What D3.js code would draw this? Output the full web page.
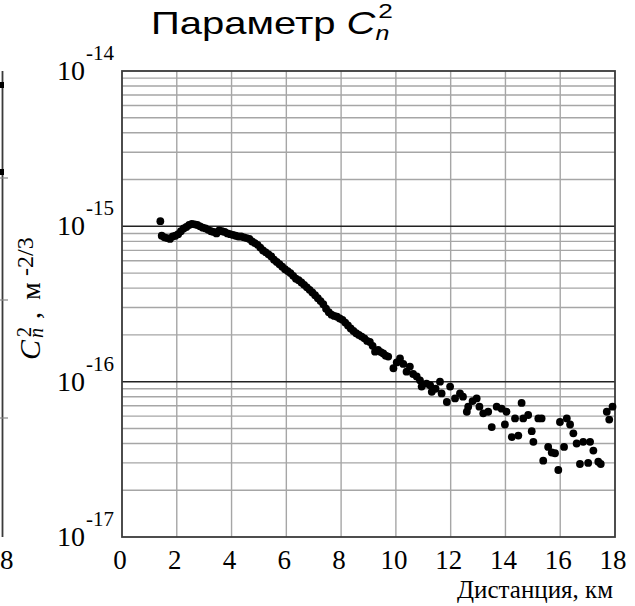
<!DOCTYPE html>
<html>
<head>
<meta charset="utf-8">
<script src="https://cdn.jsdelivr.net/npm/d3@7"></script>
<style>
  body { margin: 0; background: #fff; }
  svg { display: block; }
</style>
</head>
<body>
<svg id="chart"></svg>
<script>
// дистанция, км
var distKm = [
  1.40, 1.45, 1.55, 1.65, 1.75, 1.85, 1.95, 2.05, 2.15, 2.25, 2.35, 2.45, 2.55, 2.65, 2.75,
  2.85, 2.95, 3.05, 3.15, 3.25, 3.35, 3.45, 3.55, 3.65, 3.75, 3.85, 3.95, 4.05, 4.15, 4.25,
  4.35, 4.45, 4.55, 4.65, 4.75, 4.85, 4.95, 5.05, 5.15, 5.25, 5.35, 5.45, 5.55, 5.65, 5.75,
  5.85, 5.95, 6.05, 6.15, 6.25, 6.35, 6.45, 6.55, 6.65, 6.75, 6.85, 6.95, 7.05, 7.15, 7.25,
  7.35, 7.45, 7.55, 7.65, 7.75, 7.85, 7.95, 8.05, 8.15, 8.25, 8.35, 8.45, 8.55, 8.65, 8.75,
  8.85, 8.95, 9.05, 9.15, 9.24, 9.35, 9.45, 9.54, 9.63, 9.72, 9.91, 10.03, 10.15, 10.27, 10.39,
  10.51, 10.63, 10.76, 10.88, 10.94, 11.12, 11.25, 11.31, 11.45, 11.61, 11.67, 11.86, 11.98, 12.16, 12.34,
  12.45, 12.59, 12.64, 12.80, 12.95, 13.05, 13.19, 13.37, 13.50, 13.68, 13.86, 13.98, 14.04, 14.23, 14.35,
  14.47, 14.59, 14.65, 14.83, 14.96, 15.02, 15.20, 15.32, 15.38, 15.56, 15.69, 15.81, 15.93, 15.99, 16.14,
  16.24, 16.36, 16.48, 16.60, 16.72, 16.84, 17.02, 17.09, 17.21, 17.39, 17.48, 17.70, 17.79, 17.91
];
// Cn2, м^-2/3
var cn2 = [
  1.08e-15, 8.7e-16, 8.5e-16, 8.4e-16, 8.3e-16, 8.6e-16, 8.7e-16, 8.9e-16, 9.3e-16, 9.7e-16, 9.9e-16, 1.02e-15, 1.035e-15, 1.03e-15, 1.02e-15,
  1.0e-15, 9.8e-16, 9.7e-16, 9.5e-16, 9.3e-16, 9.2e-16, 9.0e-16, 9.4e-16, 9.3e-16, 9.2e-16, 9.0e-16, 8.9e-16, 8.8e-16, 8.7e-16, 8.6e-16,
  8.6e-16, 8.5e-16, 8.4e-16, 8.3e-16, 8.0e-16, 7.8e-16, 7.6e-16, 7.3e-16, 7.0e-16, 6.8e-16, 6.6e-16, 6.4e-16, 6.1e-16, 5.9e-16, 5.7e-16,
  5.5e-16, 5.3e-16, 5.15e-16, 5.0e-16, 4.8e-16, 4.6e-16, 4.5e-16, 4.35e-16, 4.2e-16, 4.05e-16, 3.9e-16, 3.75e-16, 3.6e-16, 3.45e-16, 3.3e-16,
  3.15e-16, 2.95e-16, 2.8e-16, 2.7e-16, 2.65e-16, 2.62e-16, 2.55e-16, 2.5e-16, 2.4e-16, 2.3e-16, 2.2e-16, 2.12e-16, 2.05e-16, 2.0e-16, 1.95e-16,
  1.9e-16, 1.83e-16, 1.8e-16, 1.7e-16, 1.56e-16, 1.6e-16, 1.55e-16, 1.52e-16, 1.47e-16, 1.45e-16, 1.22e-16, 1.33e-16, 1.41e-16, 1.3e-16, 1.16e-16,
  1.25e-16, 1.12e-16, 1.08e-16, 1.02e-16, 9.3e-17, 9.7e-17, 9.5e-17, 8.6e-17, 9.0e-17, 1.0e-16, 8.4e-17, 7.4e-17, 9.3e-17, 7.8e-17, 8.4e-17,
  8.0e-17, 6.4e-17, 6.9e-17, 7.5e-17, 7.8e-17, 6.9e-17, 6.25e-17, 6.4e-17, 5.1e-17, 6.9e-17, 6.7e-17, 5.3e-17, 6.4e-17, 4.4e-17, 5.8e-17,
  4.5e-17, 7.3e-17, 5.8e-17, 6.1e-17, 4.8e-17, 4.1e-17, 5.8e-17, 5.8e-17, 3.1e-17, 3.8e-17, 3.5e-17, 3.46e-17, 2.7e-17, 5.5e-17, 3.8e-17,
  5.8e-17, 5.3e-17, 4.65e-17, 4.0e-17, 2.95e-17, 4.1e-17, 3.0e-17, 4.1e-17, 3.6e-17, 3.05e-17, 2.95e-17, 6.4e-17, 5.7e-17, 6.9e-17
];
var xTicks = [0, 2, 4, 6, 8, 10, 12, 14, 16, 18];
var yDecades = [-14, -15, -16, -17];
var titleText = "Параметр ";
var xLabel = "Дистанция, км";

function run() {
  var W = 635, H = 606;
  var m = { left: 122, top: 71, right: 20, bottom: 69 };  // left, top, right, bottom
  var serif = "'Liberation Serif', 'Times New Roman', serif";
  var sans = "'Liberation Sans', Arial, sans-serif";

  var svg = d3.select("#chart").attr("width", W).attr("height", H);

  var x = d3.scaleLinear().domain([0, 18]).range([m.left, W - m.right]);
  var y = d3.scaleLog().domain([1e-17, 1e-14]).range([H - m.bottom, m.top]);

  // сетка: минорные линии по логарифмической шкале
  var minor = [];
  yDecades.slice(0, 3).forEach(function (e) {
    for (var k = 2; k <= 9; k++) minor.push(k * Math.pow(10, e - 1));
  });
  svg.append("g").selectAll("line").data(minor).enter().append("line")
    .attr("x1", x(0)).attr("x2", x(18))
    .attr("y1", function (d) { return y(d); }).attr("y2", function (d) { return y(d); })
    .attr("stroke", "#a6a6a6").attr("stroke-width", 1.4);

  svg.append("g").selectAll("line").data(xTicks.slice(1, -1)).enter().append("line")
    .attr("x1", function (d) { return x(d); }).attr("x2", function (d) { return x(d); })
    .attr("y1", y(1e-14)).attr("y2", y(1e-17))
    .attr("stroke", "#a6a6a6").attr("stroke-width", 1.4);

  // декадные линии
  svg.append("g").selectAll("line").data([1e-15, 1e-16]).enter().append("line")
    .attr("x1", x(0)).attr("x2", x(18))
    .attr("y1", function (d) { return y(d); }).attr("y2", function (d) { return y(d); })
    .attr("stroke", "#222").attr("stroke-width", 1.5);

  // рамка
  svg.append("rect")
    .attr("x", x(0)).attr("y", y(1e-14))
    .attr("width", x(18) - x(0)).attr("height", y(1e-17) - y(1e-14))
    .attr("fill", "none").attr("stroke", "#3a3a3a").attr("stroke-width", 1.8);

  // точки
  var pts = distKm.map(function (d, i) { return [d, cn2[i]]; });
  svg.append("g").selectAll("circle").data(pts).enter().append("circle")
    .attr("cx", function (d) { return x(d[0]); })
    .attr("cy", function (d) { return y(d[1]); })
    .attr("r", 3.9)
    .attr("fill", "#000");

  // подписи оси X
  svg.append("g").selectAll("text").data(xTicks).enter().append("text")
    .attr("x", function (d) { return x(d) - 2; })
    .attr("y", 569)
    .attr("text-anchor", "middle")
    .style("font-family", serif).style("font-size", "27px")
    .text(function (d) { return d; });

  svg.append("text")
    .attr("x", 613).attr("y", 598)
    .attr("text-anchor", "end")
    .style("font-family", serif).style("font-size", "25px")
    .text(xLabel);

  // подписи оси Y: 10^n
  var yl = svg.append("g").selectAll("g").data(yDecades).enter().append("g");
  yl.append("text")
    .attr("x", 85).attr("y", function (d) { return y(Math.pow(10, d)) + 9; })
    .attr("text-anchor", "end")
    .style("font-family", serif).style("font-size", "28px")
    .text("10");
  yl.append("text")
    .attr("x", 86).attr("y", function (d) { return y(Math.pow(10, d)) - 11; })
    .style("font-family", serif).style("font-size", "21px")
    .text(function (d) { return d; });

  // подпись оси Y (повернутая)
  var ly = svg.append("g").attr("transform", "translate(40,360) rotate(-90)")
    .style("font-family", serif);
  ly.append("text").attr("x", 0).attr("y", 0)
    .style("font-size", "30px").style("font-style", "italic").text("C");
  ly.append("text").attr("x", 23).attr("y", -9)
    .style("font-size", "20px").text("2");
  ly.append("text").attr("x", 22).attr("y", 3)
    .style("font-size", "20px").style("font-style", "italic").text("n");
  ly.append("text").attr("x", 41).attr("y", 0)
    .style("font-size", "28px").text(",");
  ly.append("text").attr("x", 60).attr("y", 0)
    .style("font-size", "28px").text("м");
  ly.append("text").attr("x", 84).attr("y", -7)
    .style("font-size", "24px").text("-2/3");

  // заголовок
  var t = svg.append("text").attr("transform", "translate(151,34) scale(1.25,1)")
    .style("font-family", sans).style("font-size", "32px");
  t.append("tspan").text(titleText);
  t.append("tspan").style("font-style", "italic").text("C");
  t.append("tspan").style("font-style", "italic").style("font-size", "20px")
    .attr("dy", 6).text("n");
  t.append("tspan").style("font-size", "21px").attr("dx", -9).attr("dy", -22).text("2");

  // обрезанный край соседнего графика
  var edge = svg.append("g");
  edge.append("line").attr("x1", 2.5).attr("x2", 2.5).attr("y1", y(1e-14)).attr("y2", y(1e-17))
    .attr("stroke", "#3a3a3a").attr("stroke-width", 1.8);
  edge.selectAll(".tk").data([178, 300, 418]).enter().append("line")
    .attr("x1", 0).attr("x2", 8).attr("y1", function (d) { return d; }).attr("y2", function (d) { return d; })
    .attr("stroke", "#888").attr("stroke-width", 1.2);
  edge.selectAll(".bl").data([85, 172]).enter().append("rect")
    .attr("x", 0).attr("y", function (d) { return d - 3; }).attr("width", 4).attr("height", 6)
    .attr("fill", "#000");
  edge.append("text").attr("x", 0).attr("y", 569)
    .style("font-family", serif).style("font-size", "27px").text("8");
}

run();
</script>
</body>
</html>
